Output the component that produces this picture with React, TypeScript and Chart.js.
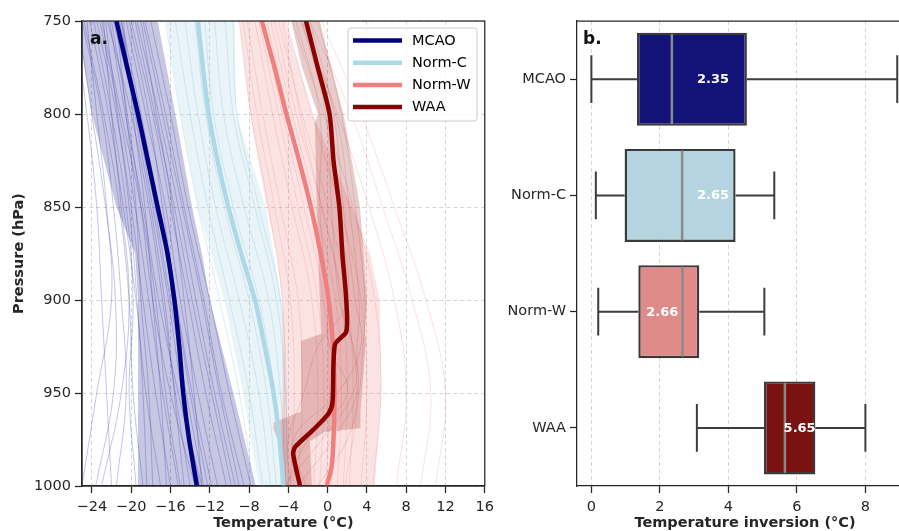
import React, { useEffect, useRef } from "react";
import { Chart, registerables } from "chart.js";

Chart.register(...registerables);

const FAMILY = "'DejaVu Sans', 'Liberation Sans', sans-serif";
const INK = "#262626";
const GRID = "#d6d6d6";

// ---------- panel a: temperature profiles ----------
const tempTicks = [-24, -20, -16, -12, -8, -4, 0, 4, 8, 12, 16];
const pressureTicks = [750, 800, 850, 900, 950, 1000];
const regimes = ["MCAO", "Norm-C", "Norm-W", "WAA"];

// regime mean profiles (°C) on their pressure levels (hPa)
const mcaoLevels = [750, 775, 800, 825, 850, 875, 900, 925, 950, 975, 1000];
const mcaoMean = [-21.5, -20.4, -19.3, -18.3, -17.3, -16.3, -15.6, -15.1, -14.7, -14.1, -13.3];
const normCLevels = [750, 775, 800, 825, 850, 875, 900, 925, 950, 975, 1000];
const normCMean = [-13.2, -12.7, -12.1, -11.2, -10.1, -8.8, -7.4, -6.4, -5.5, -4.9, -4.5];
const normWLevels = [750, 775, 800, 825, 850, 875, 900, 925, 950, 975, 990, 1000];
const normWMean = [-6.7, -5.4, -4.2, -2.9, -1.7, -0.7, 0.1, 0.55, 0.7, 0.6, 0.4, -0.1];
const waaLevels = [750, 775, 800, 825, 850, 875, 900, 917, 924, 955, 961, 970, 979, 983, 1000];
const waaMean = [-2.2, -1.0, 0.2, 0.6, 1.2, 1.5, 1.9, 1.9, 0.75, 0.5, 0.1, -1.5, -3.3, -3.5, -2.8];

// spread envelopes (°C)
const mcaoBandLevels = [750, 800, 850, 875, 900, 950, 1000];
const mcaoLow = [-25.5, -24.0, -21.5, -19.6, -19.3, -19.3, -19.3];
const mcaoHigh = [-17.3, -15.5, -13.8, -12.8, -12.0, -9.6, -7.3];
const normCBandLevels = [750, 800, 850, 900, 950, 1000];
const normCLow = [-16.4, -15.0, -13.2, -10.5, -8.6, -7.0];
const normCHigh = [-9.5, -9.3, -6.3, -4.7, -4.2, -4.1];
const normWBandLevels = [750, 800, 850, 875, 900, 950, 1000];
const normWLow = [-9.0, -7.9, -6.2, -5.2, -4.6, -4.6, -4.8];
const normWHigh = [-4.3, -1.5, 2.5, 4.3, 5.3, 5.5, 4.8];
const waaBandLevels = [750, 775, 800, 805, 850, 900, 918, 922, 960, 966, 969, 971, 976, 1000];
const waaLow = [-3.7, -2.6, -1.0, -1.3, -1.1, -0.8, -0.6, -2.7, -2.7, -5.5, -5.5, -5.4, -5.0, -4.4];
const waaHigh = [-0.8, 0.4, 1.6, 1.8, 3.3, 4.0, 3.8, 3.9, 3.4, 3.3, 3.3, -0.3, -1.8, -1.6];

// individual soundings (°C)
const memberLevels = [750, 800, 850, 900, 950, 1000];
const mcaoMembers = [
  [-25.8, -24.5, -23.5, -23.0, -22.5, -22.0],
  [-25.0, -23.0, -21.8, -21.0, -20.5, -21.5],
  [-24.2, -22.3, -20.8, -19.5, -18.5, -17.0],
  [-23.5, -21.5, -20.0, -18.8, -17.5, -16.0],
  [-23.0, -21.0, -19.0, -17.5, -16.5, -15.0],
  [-22.4, -20.0, -18.2, -16.8, -15.5, -14.0],
  [-21.8, -19.5, -17.8, -16.2, -14.8, -13.0],
  [-21.0, -19.0, -17.2, -15.5, -14.0, -12.2],
  [-20.5, -18.5, -16.5, -15.0, -13.2, -11.2],
  [-20.0, -17.8, -16.0, -14.2, -12.4, -10.3],
  [-19.4, -17.2, -15.2, -13.4, -11.5, -9.4],
  [-18.6, -16.5, -14.6, -12.6, -10.8, -8.5],
  [-18.0, -16.0, -14.2, -12.0, -10.0, -7.8],
  [-22.8, -22.0, -21.0, -20.2, -21.0, -23.0],
  [-24.5, -23.5, -22.5, -22.0, -23.5, -25.0],
  [-21.5, -20.5, -19.5, -19.0, -18.2, -17.8],
  [-20.8, -19.8, -18.6, -17.8, -17.0, -16.4],
  [-23.8, -22.0, -20.5, -19.8, -20.2, -19.5],
  [-19.0, -17.4, -15.8, -14.6, -13.6, -12.8],
  [-22.0, -20.4, -19.0, -17.8, -16.0, -13.5],
  [-24.8, -22.8, -21.2, -20.2, -19.8, -18.8],
  [-23.2, -21.2, -19.6, -18.2, -16.8, -15.2],
  [-22.2, -20.6, -18.8, -17.2, -15.2, -12.8],
  [-21.2, -19.2, -17.6, -16.0, -14.4, -12.6],
  [-20.2, -18.2, -16.8, -15.4, -13.8, -11.8],
  [-19.6, -17.6, -15.6, -13.8, -11.8, -9.8],
  [-18.8, -16.8, -14.8, -12.8, -11.0, -9.0],
  [-25.4, -24.0, -22.6, -21.6, -21.8, -23.6],
  [-22.6, -21.4, -20.2, -19.4, -18.8, -18.4],
  [-21.0, -19.6, -18.0, -16.6, -15.6, -14.6],
];
const normCMembers = [
  [-16.5, -15.0, -13.2, -11.0, -9.0, -7.5],
  [-15.5, -14.0, -12.2, -10.0, -8.0, -6.6],
  [-14.5, -13.2, -11.4, -9.0, -7.0, -5.8],
  [-13.5, -12.4, -10.5, -8.0, -6.2, -5.2],
  [-12.5, -11.6, -9.6, -7.0, -5.4, -4.6],
  [-11.5, -10.6, -8.5, -6.0, -4.8, -4.2],
  [-10.4, -9.6, -7.4, -5.2, -4.3, -4.0],
  [-9.6, -9.2, -7.0, -4.8, -4.2, -4.3],
];
const normWMembers = [
  [-9.0, -7.8, -6.0, -4.6, -4.4, -4.6],
  [-8.6, -7.2, -5.4, -3.8, -3.4, -3.8],
  [-8.2, -6.6, -4.8, -3.0, -2.6, -3.0],
  [-7.4, -5.6, -3.6, -1.6, -1.0, -1.4],
  [-7.0, -5.0, -3.0, -1.0, -0.4, -0.8],
  [-6.6, -4.6, -2.4, -0.4, 0.2, -0.2],
  [-6.2, -4.0, -1.8, 0.2, 0.8, 0.4],
  [-5.8, -3.6, -1.2, 0.8, 1.4, 1.0],
  [-5.4, -3.2, -0.6, 1.4, 2.0, 1.6],
  [-5.0, -2.6, 0.0, 2.0, 2.6, 2.2],
  [-4.6, -2.8, -0.6, 1.6, 3.0, 1.8],
  [-4.2, -1.6, 1.2, 3.4, 4.0, 3.4],
  [-3.6, -0.4, 2.6, 4.8, 5.4, 4.6],
  [-2.6, 1.0, 4.2, 6.8, 8.0, 7.0],
  [-1.8, 2.4, 5.6, 8.6, 10.5, 9.5],
  [-0.6, 3.4, 6.8, 10.0, 12.0, 11.0],
];
const waaMemberLevels = [750, 800, 850, 900, 925, 950, 975, 1000];
const waaMembers = [
  [-3.2, -0.8, -0.8, 0.0, 0.2, 2.0, -2.0, -4.2],
  [-2.6, -0.2, 0.4, 1.2, 2.6, 3.0, 0.5, -3.0],
  [-1.8, 0.6, 1.6, 2.8, 3.4, 1.0, -3.5, -2.2],
  [-1.0, 1.4, 2.8, 3.8, 3.6, 3.2, 2.0, -1.0],
  [-2.2, 0.0, 1.0, 2.0, -1.0, -2.4, -4.0, -3.8],
  [-2.8, 0.8, 2.2, 3.2, 3.0, 2.6, -0.6, -4.4],
];

// ---------- panel b: inversion strength box plots (°C) ----------
const inversionTicks = [0, 2, 4, 6, 8];
const whiskerLow = [0.0, 0.13, 0.2, 3.08];
const quartile1 = [1.33, 0.97, 1.37, 5.04];
const median = [2.35, 2.65, 2.66, 5.65];
const quartile3 = [4.54, 4.21, 3.15, 6.54];
const whiskerHigh = [8.93, 5.34, 5.05, 8.0];
const meanInversion = [3.55, 3.55, 2.07, 6.08];

const lineColors = ["#000080", "#add8e6", "#f08080", "#8b0000"];
const boxColors = ["#121278", "#b4d4df", "#e08a8a", "#7a1212"];

const minusFmt = (v: number) => (v < 0 ? "\u2212" + Math.abs(v) : String(v));
const toPoints = (levels: number[], temps: number[]) =>
  levels.map((p, i) => ({ x: temps[i], y: p }));
const toPolygon = (levels: number[], low: number[], high: number[]) => [
  ...toPoints(levels, low),
  ...toPoints(levels, high).reverse(),
];

const font = (size: number, weight: any = "normal") => ({ family: FAMILY, size, weight });

const profileGroups = [
  { levels: mcaoLevels, mean: mcaoMean, bandLevels: mcaoBandLevels, low: mcaoLow, high: mcaoHigh,
    mLevels: memberLevels, members: mcaoMembers, band: "rgba(0,0,128,0.22)", member: "rgba(40,40,165,0.27)" },
  { levels: normCLevels, mean: normCMean, bandLevels: normCBandLevels, low: normCLow, high: normCHigh,
    mLevels: memberLevels, members: normCMembers, band: "rgba(173,216,230,0.28)", member: "rgba(150,200,222,0.35)" },
  { levels: normWLevels, mean: normWMean, bandLevels: normWBandLevels, low: normWLow, high: normWHigh,
    mLevels: memberLevels, members: normWMembers, band: "rgba(240,128,128,0.22)", member: "rgba(240,128,128,0.24)" },
  { levels: waaLevels, mean: waaMean, bandLevels: waaBandLevels, low: waaLow, high: waaHigh,
    mLevels: waaMemberLevels, members: waaMembers, band: "rgba(139,0,0,0.2)", member: "rgba(139,0,0,0.13)" },
];

const profileFrame = {
  id: "profileFrame",
  afterDatasetsDraw(chart: any) {
    const { ctx, chartArea: a } = chart;
    ctx.save();
    ctx.strokeStyle = INK;
    ctx.lineWidth = 1.25;
    ctx.strokeRect(a.left, a.top, a.right - a.left, a.bottom - a.top);
    ctx.fillStyle = "#111";
    ctx.font = `bold 17px ${FAMILY}`;
    ctx.textBaseline = "middle";
    ctx.fillText("a.", a.left + 8, a.top + 19);

    // legend
    const lx = 348, ly = 28, lw = 129, lh = 93;
    ctx.beginPath();
    ctx.roundRect(lx, ly, lw, lh, 3);
    ctx.fillStyle = "rgba(255,255,255,0.8)";
    ctx.fill();
    ctx.strokeStyle = "#cccccc";
    ctx.lineWidth = 1;
    ctx.stroke();
    ctx.font = `14.5px ${FAMILY}`;
    regimes.forEach((name, i) => {
      const y = 40.5 + i * 22.2;
      ctx.beginPath();
      ctx.moveTo(353, y);
      ctx.lineTo(402, y);
      ctx.strokeStyle = lineColors[i];
      ctx.lineWidth = 4.5;
      ctx.stroke();
      ctx.fillStyle = "#000";
      ctx.fillText(name, 412, y + 0.5);
    });
    ctx.restore();
  },
};

const boxParts = {
  id: "boxParts",
  beforeDatasetsDraw(chart: any) {
    const { ctx, scales } = chart;
    const x = scales.x, y = scales.y;
    const band = (y.bottom - y.top) / regimes.length;
    ctx.save();
    ctx.strokeStyle = "#3d3d3d";
    ctx.lineWidth = 2;
    regimes.forEach((_, i) => {
      const cy = y.getPixelForValue(i);
      const xl = x.getPixelForValue(whiskerLow[i]);
      const x1 = x.getPixelForValue(quartile1[i]);
      const x3 = x.getPixelForValue(quartile3[i]);
      const xh = x.getPixelForValue(whiskerHigh[i]);
      ctx.beginPath();
      ctx.moveTo(xl, cy); ctx.lineTo(x1, cy);
      ctx.moveTo(x3, cy); ctx.lineTo(xh, cy);
      ctx.moveTo(xl, cy - band * 0.205); ctx.lineTo(xl, cy + band * 0.205);
      ctx.moveTo(xh, cy - band * 0.205); ctx.lineTo(xh, cy + band * 0.205);
      ctx.stroke();
    });
    ctx.restore();
  },
  afterDatasetsDraw(chart: any) {
    const { ctx, scales, chartArea: a } = chart;
    const x = scales.x, y = scales.y;
    const band = (y.bottom - y.top) / regimes.length;
    ctx.save();
    regimes.forEach((_, i) => {
      const cy = y.getPixelForValue(i);
      const xm = x.getPixelForValue(median[i]);
      ctx.beginPath();
      ctx.moveTo(xm, cy - band * 0.4 + 1.5);
      ctx.lineTo(xm, cy + band * 0.4 - 1.5);
      ctx.strokeStyle = "#8a8a8a";
      ctx.lineWidth = 2.5;
      ctx.stroke();
      ctx.fillStyle = "#ffffff";
      ctx.font = `bold 13px ${FAMILY}`;
      ctx.textAlign = "center";
      ctx.textBaseline = "middle";
      ctx.fillText(median[i].toFixed(2), x.getPixelForValue(meanInversion[i]), cy + 0.5);
    });
    ctx.strokeStyle = INK;
    ctx.lineWidth = 1.25;
    ctx.beginPath();
    ctx.moveTo(a.left, a.top);
    ctx.lineTo(a.right, a.top);
    ctx.stroke();
    ctx.fillStyle = "#111";
    ctx.font = `bold 17px ${FAMILY}`;
    ctx.textAlign = "left";
    ctx.textBaseline = "middle";
    ctx.fillText("b.", a.left + 6, a.top + 19);
    ctx.restore();
  },
};

const axisCommon = {
  grid: { color: GRID, lineWidth: 1, tickColor: INK, tickLength: 7, tickWidth: 1.25 },
  border: { display: true, color: INK, width: 1.25, dash: [4, 3] },
};

export default function App() {
  const leftRef = useRef<HTMLCanvasElement>(null);
  const rightRef = useRef<HTMLCanvasElement>(null);

  useEffect(() => {
    const datasets: any[] = [];
    profileGroups.forEach((g, gi) => {
      datasets.push({
        data: toPolygon(g.bandLevels, g.low, g.high),
        fill: "shape",
        backgroundColor: g.band,
        borderWidth: 0,
        pointRadius: 0,
        tension: 0,
        order: 100 - gi * 2,
      });
      g.members.forEach((m) =>
        datasets.push({
          data: toPoints(g.mLevels, m),
          borderColor: g.member,
          borderWidth: 1,
          pointRadius: 0,
          tension: 0.4,
          fill: false,
          order: 99 - gi * 2,
        })
      );
    });
    profileGroups.forEach((g, gi) =>
      datasets.push({
        label: regimes[gi],
        data: toPoints(g.levels, g.mean),
        borderColor: lineColors[gi],
        borderWidth: 4.5,
        pointRadius: 0,
        tension: 0.25,
        fill: false,
        order: 10 - gi,
      })
    );

    const left = new Chart(leftRef.current!, {
      type: "line",
      data: { datasets },
      plugins: [profileFrame],
      options: {
        animation: false,
        responsive: false,
        events: [],
        indexAxis: "y",
        layout: { padding: { left: 0, right: 15, top: 21, bottom: 0 } },
        plugins: { legend: { display: false }, tooltip: { enabled: false } },
        scales: {
          x: {
            type: "linear",
            min: -25,
            max: 16,
            afterBuildTicks: (s: any) => { s.ticks = tempTicks.map((v) => ({ value: v })); },
            afterFit: (s: any) => { s.height = 45; },
            ticks: { callback: (v: any) => minusFmt(Number(v)), color: INK, font: font(14.5), padding: 6, maxRotation: 0, autoSkip: false },
            title: { display: true, text: "Temperature (°C)", color: INK, font: font(14.5, "bold"), padding: { top: 0, bottom: -1 } },
            ...axisCommon,
          },
          y: {
            type: "linear",
            min: 750,
            max: 1000,
            reverse: true,
            afterBuildTicks: (s: any) => { s.ticks = pressureTicks.map((v) => ({ value: v })); },
            afterFit: (s: any) => { s.width = 82; },
            ticks: { callback: (v: any) => String(v), color: INK, font: font(14.5), padding: 4, autoSkip: false },
            title: { display: true, text: "Pressure (hPa)", color: INK, font: font(14.5, "bold"), padding: { top: 11, bottom: 0 } },
            ...axisCommon,
          },
        },
      } as any,
    });

    const right = new Chart(rightRef.current!, {
      type: "bar",
      data: {
        labels: regimes,
        datasets: [
          {
            data: regimes.map((_, i) => [quartile1[i], quartile3[i]]),
            backgroundColor: boxColors,
            borderColor: "#3a3a3a",
            borderWidth: 2.4,
            borderSkipped: false,
            barPercentage: 0.8,
            categoryPercentage: 1,
          },
        ],
      },
      plugins: [boxParts],
      options: {
        animation: false,
        responsive: false,
        events: [],
        indexAxis: "y",
        layout: { padding: { left: 0, right: 7, top: 21, bottom: 0 } },
        plugins: { legend: { display: false }, tooltip: { enabled: false } },
        scales: {
          x: {
            type: "linear",
            min: -0.42,
            max: 9.39,
            afterBuildTicks: (s: any) => { s.ticks = inversionTicks.map((v) => ({ value: v })); },
            afterFit: (s: any) => { s.height = 45; },
            ticks: { color: INK, font: font(14.5), padding: 6, maxRotation: 0, autoSkip: false },
            title: { display: true, text: "Temperature inversion (°C)", color: INK, font: font(14.5, "bold"), padding: { top: 0, bottom: -1 } },
            ...axisCommon,
          },
          y: {
            type: "category",
            afterFit: (s: any) => { s.width = 77; },
            ticks: { color: INK, font: font(14.5), padding: 4, autoSkip: false },
            grid: { drawOnChartArea: false, offset: false, tickColor: INK, tickLength: 7, tickWidth: 1.25 },
            border: { display: true, color: INK, width: 1.25 },
          },
        },
      } as any,
    });

    return () => {
      left.destroy();
      right.destroy();
    };
  }, []);

  return (
    <div style={{ position: "fixed", left: 0, top: 0, width: 899, height: 531, overflow: "hidden", background: "#fff" }}>
      <canvas ref={leftRef} width={500} height={531} style={{ position: "absolute", left: 0, top: 0, width: 500, height: 531 }} />
      <canvas ref={rightRef} width={420} height={531} style={{ position: "absolute", left: 500, top: 0, width: 420, height: 531 }} />
    </div>
  );
}
